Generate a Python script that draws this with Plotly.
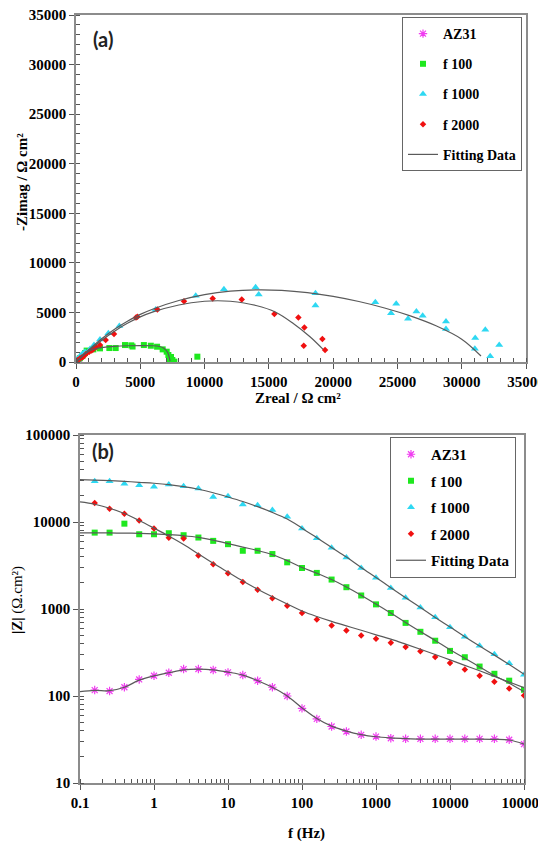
import plotly.graph_objects as go

# The page body has an 8px default margin, so the figure is sized to fill the rest of the window.
OFF = 8
W, H = 546 - OFF, 849 - 2 * OFF

# ---------------- Panel (a): Nyquist data ----------------
az31_zr = [28, 31, 33, 36, 40, 45, 55, 72, 100, 115, 112, 116]
az31_zi = [0, 2, 5, 8, 12, 18, 35, 50, 60, 40, 10, -5]

f100_zr = [50, 150, 300, 500, 700, 830, 1348, 1867, 2594, 3086, 3812, 4300, 4400, 5279,
           5820, 6307, 6742, 7054, 7185, 7300, 7313, 7390, 7495, 7650, 9440]
f100_zi = [40, 180, 380, 620, 900, 1150, 1274, 1375, 1408, 1408, 1710, 1680, 1560, 1710,
           1643, 1542, 1274, 1040, 704, 150, 369, 503, 201, 34, 537]

f1000_zr = [20, 100, 311, 500, 700, 1089, 1400, 1867, 2516, 3371, 6200, 9312, 11505, 13968,
            14212, 18625, 18625, 23281, 24905, 24500, 26475, 26963, 25826, 28776, 28776,
            31050, 31023, 31835, 32214, 32918]
f1000_zi = [100, 300, 604, 820, 1040, 1308, 1710, 2280, 2900, 3622, 5300, 6671, 7342, 7543,
            6805, 6939, 5699, 6034, 5866, 4928, 5096, 4660, 4358, 4090, 3319,
            2414, 1341, 3252, 570, 1710]

f2000_zr = [20, 52, 150, 311, 450, 571, 778, 1037, 1219, 1348, 1556, 1867, 2308, 2956, 4668,
            4772, 6327, 8402, 10633, 12891, 15430, 17297, 17764, 19164, 17712, 19372]
f2000_zi = [30, 120, 200, 369, 450, 537, 805, 1040, 1150, 1274, 1476, 1710, 2213, 2817, 4494,
            4561, 5299, 6137, 6406, 6305, 4829, 4494, 3488, 2314, 1643, 1207]

fit_az31_zr = [28, 40, 60, 90, 115, 117]
fit_az31_zi = [0, 12, 40, 58, 35, 0]
fit100_zr = [0, 300, 600, 1000, 1500, 2000, 3000, 4000, 5000, 6000, 6500, 6800, 7000, 7150, 7250, 7320]
fit100_zi = [0, 380, 750, 1100, 1330, 1450, 1580, 1640, 1660, 1640, 1560, 1420, 1200, 900, 500, 100]
fit1000_zr = [0, 500, 1000, 2000, 3000, 4000, 5000, 6000, 8000, 10000, 12000, 14000, 16000,
              18000, 20000, 22000, 24000, 26000, 28000, 30000, 31500]
fit1000_zi = [0, 650, 1250, 2350, 3300, 4100, 4800, 5350, 6200, 6800, 7150, 7280, 7230,
              7000, 6620, 6100, 5450, 4650, 3650, 2300, 600]
fit2000_zr = [0, 500, 1000, 2000, 3000, 4000, 5000, 6000, 8000, 10000, 11000, 12000, 14000,
              15500, 16900, 18200, 19200]
fit2000_zi = [0, 600, 1150, 2200, 3100, 3900, 4550, 5050, 5750, 6130, 6180, 6130, 5700,
              5050, 3890, 2550, 1300]

# ---------------- Panel (b): Bode |Z| data ----------------
freq = [0.158, 0.251, 0.398, 0.631, 1, 1.585, 2.512, 3.981, 6.31, 10, 15.85, 25.12, 39.81,
        63.1, 100, 158.5, 251.2, 398.1, 631, 1000, 1585, 2512, 3981, 6310, 10000, 15850,
        25120, 39810, 63100, 100000]
az31_z = [117, 114, 126, 155, 171, 185, 204, 204, 199, 187, 174, 150, 126, 100, 72, 54.6,
          44.6, 39.1, 35.8, 34.2, 32.7, 32.2, 32.2, 32.2, 32.2, 32.2, 32.2, 32.2, 31.4, 28.0]
f100_z = [7550, 7550, 9570, 7230, 7230, 7430, 7050, 6630, 6070, 5560, 4670, 4670, 4280, 3440,
          2960, 2600, 2180, 1780, 1430, 1130, 900, 692, 547, 432, 330, 279, 218, 180, 150, 118]
f1000_z = [29400, 29400, 27600, 26400, 25500, 26900, 25800, 24200, 19400, 19800, 15900, 15600,
           13700, 11500, 8400, 6510, 5050, 3920, 2960, 2280, 1740, 1350, 1040, 803, 618, 480,
           379, 301, 238, 175]
f2000_z = [16500, 14200, 12400, 10400, 8400, 6570, 6450, 4130, 3260, 2570, 2050, 1660, 1330,
           1090, 900, 755, 645, 566, 496, 455, 410, 366, 326, 281, 240, 201, 171, 146, 122, 101]

fit_freq = [0.1] + freq
fit_az31_z = [112, 116, 115, 126, 152, 170, 185, 200, 204, 200, 188, 174, 150, 126, 100, 73,
              55, 45, 39.5, 36, 34, 33, 32.4, 32, 32, 32, 32, 32, 31.8, 31.2, 28]
fit100_z = [7500, 7500, 7480, 7450, 7400, 7300, 7150, 6950, 6650, 6200, 5650, 5150, 4700, 4200,
            3600, 3000, 2580, 2180, 1790, 1440, 1140, 900, 700, 550, 435, 340, 272, 216, 172,
            140, 112]
fit1000_z = [30700, 30300, 29900, 29300, 28600, 27900, 26900, 25500, 23800, 21700, 19400, 17200,
             15000, 12900, 10800, 8500, 6600, 5100, 3950, 3000, 2300, 1760, 1350, 1040, 800,
             620, 480, 375, 295, 230, 178]
fit2000_z = [17000, 16000, 14400, 12500, 10400, 8500, 6900, 5500, 4300, 3350, 2650, 2100, 1690,
             1380, 1140, 950, 820, 720, 640, 570, 505, 450, 395, 345, 300, 260, 225, 195, 168,
             145, 125]

nyq_ticks = [0, 5000, 10000, 15000, 20000, 25000, 30000, 35000]

# ---------------- styles ----------------
C_AZ, C_100, C_1000, C_2000 = "#F03CF0", "#1EE81E", "#2ED8F2", "#F01010"
FIT = "#5a5a5a"
SERIF = "Liberation Serif"

STYLES = [
    ("<b>AZ31</b>", dict(symbol="asterisk-open", size=7, color=C_AZ, line=dict(color=C_AZ, width=1.2))),
    ("<b>f 100</b>", dict(symbol="square", size=6, color=C_100)),
    ("<b>f 1000</b>", dict(symbol="triangle-up", size=7, color=C_1000)),
    ("<b>f 2000</b>", dict(symbol="diamond", size=5, color=C_2000)),
]

fig = go.Figure()

# Panel (a)
sets_a = [(az31_zr, az31_zi), (f100_zr, f100_zi), (f1000_zr, f1000_zi), (f2000_zr, f2000_zi)]
fits_a = [(fit_az31_zr, fit_az31_zi), (fit100_zr, fit100_zi), (fit1000_zr, fit1000_zi), (fit2000_zr, fit2000_zi)]
for i, ((name, mk), (xs, ys)) in enumerate(zip(STYLES, sets_a)):
    fig.add_trace(go.Scatter(x=xs, y=ys, mode="markers", name=name, marker=mk,
                             xaxis="x", yaxis="y", legend="legend", legendgroup="a%d" % i))
for j, (xs, ys) in enumerate(fits_a):
    fig.add_trace(go.Scatter(x=xs, y=ys, mode="lines", name="<b>Fitting Data</b>",
                             line=dict(color=FIT, width=1.2, shape="spline"),
                             xaxis="x", yaxis="y", legend="legend", legendgroup="afit",
                             showlegend=(j == 0)))

# Panel (b)
sets_b = [az31_z, f100_z, f1000_z, f2000_z]
fits_b = [fit_az31_z, fit100_z, fit1000_z, fit2000_z]
for i, ((name, mk), ys) in enumerate(zip(STYLES, sets_b)):
    fig.add_trace(go.Scatter(x=freq, y=ys, mode="markers", name=name, marker=mk,
                             xaxis="x2", yaxis="y2", legend="legend2", legendgroup="b%d" % i))
for j, ys in enumerate(fits_b):
    fig.add_trace(go.Scatter(x=fit_freq, y=ys, mode="lines", name="<b>Fitting Data</b>",
                             line=dict(color=FIT, width=1.2, shape="spline"),
                             xaxis="x2", yaxis="y2", legend="legend2", legendgroup="bfit",
                             showlegend=(j == 0)))

tickfont = dict(family=SERIF, size=15, color="black", weight="bold")
axline = dict(showline=True, linecolor="#8c8c8c", linewidth=1.5, mirror=True,
              showgrid=False, zeroline=False, ticks="outside", ticklen=5, tickwidth=1,
              tickcolor="#555", tickfont=tickfont, automargin=False,
              ticklabeloverflow="allow")

def px_x(p): return (p - OFF) / W
def px_y(p): return 1 - (p - OFF) / H

fig.update_layout(
    width=W, height=H, margin=dict(l=0, r=0, t=0, b=0, autoexpand=False),
    paper_bgcolor="white", plot_bgcolor="white",
    font=dict(family=SERIF),
    xaxis=dict(domain=[px_x(76), px_x(526)], range=[0, 35000], tickvals=nyq_ticks,
               ticktext=[str(v) for v in nyq_ticks], anchor="y",
               minor=dict(dtick=1000, ticks="inside", ticklen=4, tickcolor="#555"), **axline),
    yaxis=dict(domain=[px_y(362), px_y(15)], range=[0, 35000], tickvals=nyq_ticks,
               ticktext=[str(v) for v in nyq_ticks], anchor="x",
               minor=dict(dtick=1000, ticks="inside", ticklen=4, tickcolor="#555"), **axline),
    xaxis2=dict(domain=[px_x(80), px_x(524)], type="log", range=[-1, 5], tickmode="linear",
                tick0=0, dtick=1, tickformat="~g", anchor="y2",
                minor=dict(dtick="D1", ticks="inside", ticklen=4, tickcolor="#555"), **axline),
    yaxis2=dict(domain=[px_y(783), px_y(435)], type="log", range=[1, 5], tickmode="linear",
                tick0=0, dtick=1, tickformat="~g", anchor="x2",
                minor=dict(dtick="D1", ticks="inside", ticklen=4, tickcolor="#555"), **axline),
    legend=dict(x=px_x(402), y=px_y(17), xanchor="left", yanchor="top",
                bordercolor="#666", borderwidth=1, bgcolor="white",
                font=dict(family=SERIF, size=14, color="black"),
                tracegroupgap=9, itemwidth=30),
    legend2=dict(x=px_x(390), y=px_y(437), xanchor="left", yanchor="top",
                 bordercolor="#666", borderwidth=1, bgcolor="white",
                 font=dict(family=SERIF, size=15, color="black"),
                 tracegroupgap=4, itemwidth=30),
    showlegend=True,
)

ann = [
    dict(text="<b>(a)</b>", x=px_x(103), y=px_y(39), font=dict(family="Lato", size=20, color="#222")),
    dict(text="<b>(b)</b>", x=px_x(103), y=px_y(451), font=dict(family="Lato", size=20, color="#222")),
    dict(text="<b>Zreal / Ω cm²</b>", x=px_x(298), y=px_y(398), font=dict(family=SERIF, size=15, color="black")),
    dict(text="<b>-Zimag / Ω cm²</b>", x=px_x(22), y=px_y(182), textangle=-90,
         font=dict(family=SERIF, size=15, color="black")),
    dict(text="<b>|Z|</b> (Ω.cm²)", x=px_x(17), y=px_y(600), textangle=-90,
         font=dict(family=SERIF, size=15, color="black")),
    dict(text="<b>f (Hz)</b>", x=px_x(306), y=px_y(833), font=dict(family=SERIF, size=15, color="black")),
]
for a in ann:
    fig.add_annotation(xref="paper", yref="paper", showarrow=False, xanchor="center",
                       yanchor="middle", **a)

fig.write_html("out.html")
